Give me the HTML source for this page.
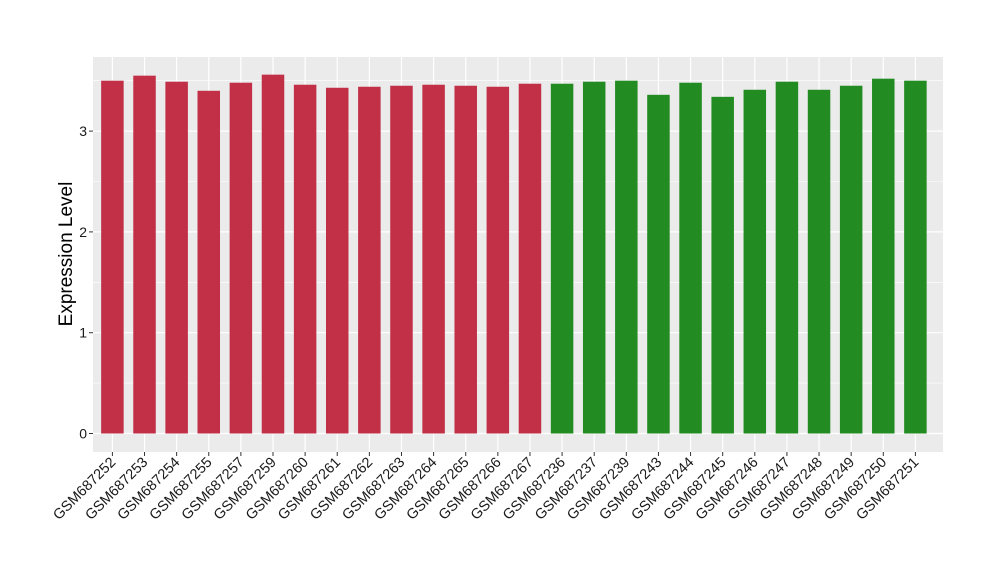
<!DOCTYPE html>
<html><head><meta charset="utf-8"><style>body{margin:0;background:#fff}svg{display:block}</style></head><body>
<svg width="1000" height="580" xmlns="http://www.w3.org/2000/svg" font-family="Liberation Sans, sans-serif">
<rect x="93" y="57" width="850" height="395" fill="#ebebeb"/>
<g stroke="#fff" stroke-width="0.6">
<line x1="93" x2="943" y1="383.1" y2="383.1"/><line x1="93" x2="943" y1="282.3" y2="282.3"/><line x1="93" x2="943" y1="181.5" y2="181.5"/><line x1="93" x2="943" y1="80.7" y2="80.7"/>
</g>
<g stroke="#fff" stroke-width="1.2">
<line x1="93" x2="943" y1="433.5" y2="433.5"/><line x1="93" x2="943" y1="332.7" y2="332.7"/><line x1="93" x2="943" y1="231.9" y2="231.9"/><line x1="93" x2="943" y1="131.1" y2="131.1"/>
</g>
<g font-size="14" fill="#1a1a1a" text-anchor="end">
<text x="87" y="438.5">0</text><text x="87" y="337.7">1</text><text x="87" y="236.9">2</text><text x="87" y="136.1">3</text>
</g>
<g stroke="#333" stroke-width="1"><line x1="89" x2="93" y1="433.5" y2="433.5"/><line x1="89" x2="93" y1="332.7" y2="332.7"/><line x1="89" x2="93" y1="231.9" y2="231.9"/><line x1="89" x2="93" y1="131.1" y2="131.1"/></g>
<text transform="translate(72,254) rotate(-90)" font-size="19" text-anchor="middle" fill="#000">Expression Level</text>
<defs><style>.gl{stroke:#fff;stroke-width:1.2}.tk{stroke:#333}.lb{font-size:14.5px;fill:#1a1a1a;text-anchor:end}.r{fill:#c13047}.gr{fill:#228b22}</style></defs>
<g transform="translate(112.4,0)"><line class="gl" y1="57" y2="452"/><rect class="r" x="-11.25" y="80.7" width="22.5" height="352.8"/><line class="tk" y1="452" y2="456"/><text class="lb" transform="translate(4,463) rotate(-45)">GSM687252</text></g>
<g transform="translate(144.52,0)"><line class="gl" y1="57" y2="452"/><rect class="r" x="-11.25" y="75.66" width="22.5" height="357.84"/><line class="tk" y1="452" y2="456"/><text class="lb" transform="translate(4,463) rotate(-45)">GSM687253</text></g>
<g transform="translate(176.64,0)"><line class="gl" y1="57" y2="452"/><rect class="r" x="-11.25" y="81.71" width="22.5" height="351.79"/><line class="tk" y1="452" y2="456"/><text class="lb" transform="translate(4,463) rotate(-45)">GSM687254</text></g>
<g transform="translate(208.76,0)"><line class="gl" y1="57" y2="452"/><rect class="r" x="-11.25" y="90.78" width="22.5" height="342.72"/><line class="tk" y1="452" y2="456"/><text class="lb" transform="translate(4,463) rotate(-45)">GSM687255</text></g>
<g transform="translate(240.88,0)"><line class="gl" y1="57" y2="452"/><rect class="r" x="-11.25" y="82.72" width="22.5" height="350.78"/><line class="tk" y1="452" y2="456"/><text class="lb" transform="translate(4,463) rotate(-45)">GSM687257</text></g>
<g transform="translate(273,0)"><line class="gl" y1="57" y2="452"/><rect class="r" x="-11.25" y="74.65" width="22.5" height="358.85"/><line class="tk" y1="452" y2="456"/><text class="lb" transform="translate(4,463) rotate(-45)">GSM687259</text></g>
<g transform="translate(305.12,0)"><line class="gl" y1="57" y2="452"/><rect class="r" x="-11.25" y="84.73" width="22.5" height="348.77"/><line class="tk" y1="452" y2="456"/><text class="lb" transform="translate(4,463) rotate(-45)">GSM687260</text></g>
<g transform="translate(337.24,0)"><line class="gl" y1="57" y2="452"/><rect class="r" x="-11.25" y="87.76" width="22.5" height="345.74"/><line class="tk" y1="452" y2="456"/><text class="lb" transform="translate(4,463) rotate(-45)">GSM687261</text></g>
<g transform="translate(369.36,0)"><line class="gl" y1="57" y2="452"/><rect class="r" x="-11.25" y="86.75" width="22.5" height="346.75"/><line class="tk" y1="452" y2="456"/><text class="lb" transform="translate(4,463) rotate(-45)">GSM687262</text></g>
<g transform="translate(401.48,0)"><line class="gl" y1="57" y2="452"/><rect class="r" x="-11.25" y="85.74" width="22.5" height="347.76"/><line class="tk" y1="452" y2="456"/><text class="lb" transform="translate(4,463) rotate(-45)">GSM687263</text></g>
<g transform="translate(433.6,0)"><line class="gl" y1="57" y2="452"/><rect class="r" x="-11.25" y="84.73" width="22.5" height="348.77"/><line class="tk" y1="452" y2="456"/><text class="lb" transform="translate(4,463) rotate(-45)">GSM687264</text></g>
<g transform="translate(465.72,0)"><line class="gl" y1="57" y2="452"/><rect class="r" x="-11.25" y="85.74" width="22.5" height="347.76"/><line class="tk" y1="452" y2="456"/><text class="lb" transform="translate(4,463) rotate(-45)">GSM687265</text></g>
<g transform="translate(497.84,0)"><line class="gl" y1="57" y2="452"/><rect class="r" x="-11.25" y="86.75" width="22.5" height="346.75"/><line class="tk" y1="452" y2="456"/><text class="lb" transform="translate(4,463) rotate(-45)">GSM687266</text></g>
<g transform="translate(529.96,0)"><line class="gl" y1="57" y2="452"/><rect class="r" x="-11.25" y="83.72" width="22.5" height="349.78"/><line class="tk" y1="452" y2="456"/><text class="lb" transform="translate(4,463) rotate(-45)">GSM687267</text></g>
<g transform="translate(562.08,0)"><line class="gl" y1="57" y2="452"/><rect class="gr" x="-11.25" y="83.72" width="22.5" height="349.78"/><line class="tk" y1="452" y2="456"/><text class="lb" transform="translate(4,463) rotate(-45)">GSM687236</text></g>
<g transform="translate(594.2,0)"><line class="gl" y1="57" y2="452"/><rect class="gr" x="-11.25" y="81.71" width="22.5" height="351.79"/><line class="tk" y1="452" y2="456"/><text class="lb" transform="translate(4,463) rotate(-45)">GSM687237</text></g>
<g transform="translate(626.32,0)"><line class="gl" y1="57" y2="452"/><rect class="gr" x="-11.25" y="80.7" width="22.5" height="352.8"/><line class="tk" y1="452" y2="456"/><text class="lb" transform="translate(4,463) rotate(-45)">GSM687239</text></g>
<g transform="translate(658.44,0)"><line class="gl" y1="57" y2="452"/><rect class="gr" x="-11.25" y="94.81" width="22.5" height="338.69"/><line class="tk" y1="452" y2="456"/><text class="lb" transform="translate(4,463) rotate(-45)">GSM687243</text></g>
<g transform="translate(690.56,0)"><line class="gl" y1="57" y2="452"/><rect class="gr" x="-11.25" y="82.72" width="22.5" height="350.78"/><line class="tk" y1="452" y2="456"/><text class="lb" transform="translate(4,463) rotate(-45)">GSM687244</text></g>
<g transform="translate(722.68,0)"><line class="gl" y1="57" y2="452"/><rect class="gr" x="-11.25" y="96.83" width="22.5" height="336.67"/><line class="tk" y1="452" y2="456"/><text class="lb" transform="translate(4,463) rotate(-45)">GSM687245</text></g>
<g transform="translate(754.8,0)"><line class="gl" y1="57" y2="452"/><rect class="gr" x="-11.25" y="89.77" width="22.5" height="343.73"/><line class="tk" y1="452" y2="456"/><text class="lb" transform="translate(4,463) rotate(-45)">GSM687246</text></g>
<g transform="translate(786.92,0)"><line class="gl" y1="57" y2="452"/><rect class="gr" x="-11.25" y="81.71" width="22.5" height="351.79"/><line class="tk" y1="452" y2="456"/><text class="lb" transform="translate(4,463) rotate(-45)">GSM687247</text></g>
<g transform="translate(819.04,0)"><line class="gl" y1="57" y2="452"/><rect class="gr" x="-11.25" y="89.77" width="22.5" height="343.73"/><line class="tk" y1="452" y2="456"/><text class="lb" transform="translate(4,463) rotate(-45)">GSM687248</text></g>
<g transform="translate(851.16,0)"><line class="gl" y1="57" y2="452"/><rect class="gr" x="-11.25" y="85.74" width="22.5" height="347.76"/><line class="tk" y1="452" y2="456"/><text class="lb" transform="translate(4,463) rotate(-45)">GSM687249</text></g>
<g transform="translate(883.28,0)"><line class="gl" y1="57" y2="452"/><rect class="gr" x="-11.25" y="78.68" width="22.5" height="354.82"/><line class="tk" y1="452" y2="456"/><text class="lb" transform="translate(4,463) rotate(-45)">GSM687250</text></g>
<g transform="translate(915.4,0)"><line class="gl" y1="57" y2="452"/><rect class="gr" x="-11.25" y="80.7" width="22.5" height="352.8"/><line class="tk" y1="452" y2="456"/><text class="lb" transform="translate(4,463) rotate(-45)">GSM687251</text></g>
</svg>
</body></html>
